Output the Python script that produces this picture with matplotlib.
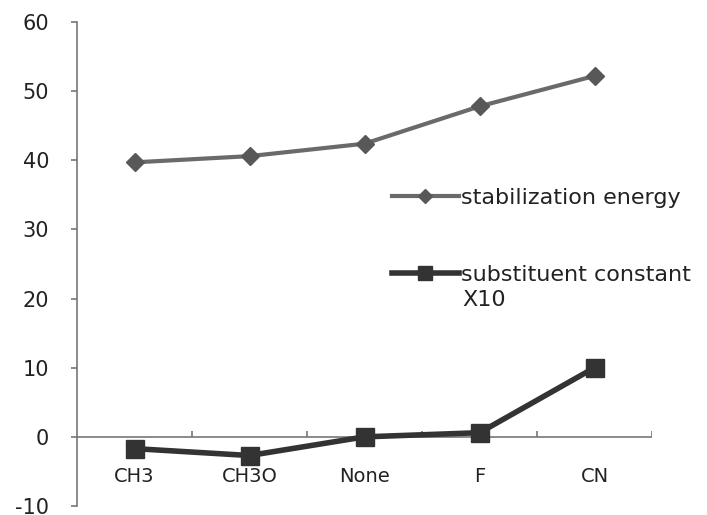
import matplotlib
matplotlib.use("Agg")
import matplotlib.pyplot as plt
from matplotlib.ticker import FixedLocator

categories = ["CH3", "CH3O", "None", "F", "CN"]
stab_energy = [39.7, 40.6, 42.4, 47.8, 52.2]
subst_const = [-1.7, -2.7, 0.0, 0.6, 10.0]
yticks = [-10, 0, 10, 20, 30, 40, 50, 60]

plt.rcParams['font.family'] = ['DejaVu Sans']
plt.rcParams['axes.unicode_minus'] = False

fig = plt.figure(figsize=(7.07, 5.15), dpi=100)
ax = fig.add_axes([77/707, 1-506/515, (652-77)/707, (506-22)/515])

x = list(range(len(categories)))
ax.plot(x, stab_energy, color='#6a6a6a', lw=3, marker='D', ms=9,
        mfc='#585858', mec='#585858', label='stabilization energy', zorder=3)
ax.plot(x, subst_const, color='#333333', lw=4, marker='s', ms=13,
        mfc='#333333', mec='#333333', label='substituent constant', zorder=3)

ax.set_xlim(-0.5, len(categories) - 0.5)
ax.set_ylim(-10, 60)

# category axis drawn at y = 0
ax.axhline(0, color='#777777', lw=1.2, zorder=1)
ax.vlines([i + 0.5 for i in x], 0, 0.9, color='#777777', lw=1.2, zorder=1)

for s in ['top', 'right', 'bottom']:
    ax.spines[s].set_visible(False)
ax.spines['left'].set_color('#777777')
ax.spines['left'].set_linewidth(1.2)

ax.yaxis.set_major_locator(FixedLocator(yticks))
ax.tick_params(axis='y', direction='out', length=4, width=1.2, color='#777777',
               labelsize=15, labelcolor='#222222', pad=16)
ax.set_xticks([])
for i, c in enumerate(categories):
    ax.text(i, -5.7, c, ha='center', va='center', fontsize=14, color='#222222')

leg = ax.legend(loc='upper left', bbox_to_anchor=(392/707, 1-188/515),
                bbox_transform=fig.transFigure, frameon=False, fontsize=16,
                handlelength=3.0, handletextpad=0.1, labelspacing=2.55,
                borderpad=0, borderaxespad=0, markerscale=0.75)
for t in leg.get_texts():
    t.set_color('#222222')
fig.text(462/707, 1-300/515, "X10", fontsize=16, color='#222222', va='center')

fig.savefig("out.png", dpi=100)
